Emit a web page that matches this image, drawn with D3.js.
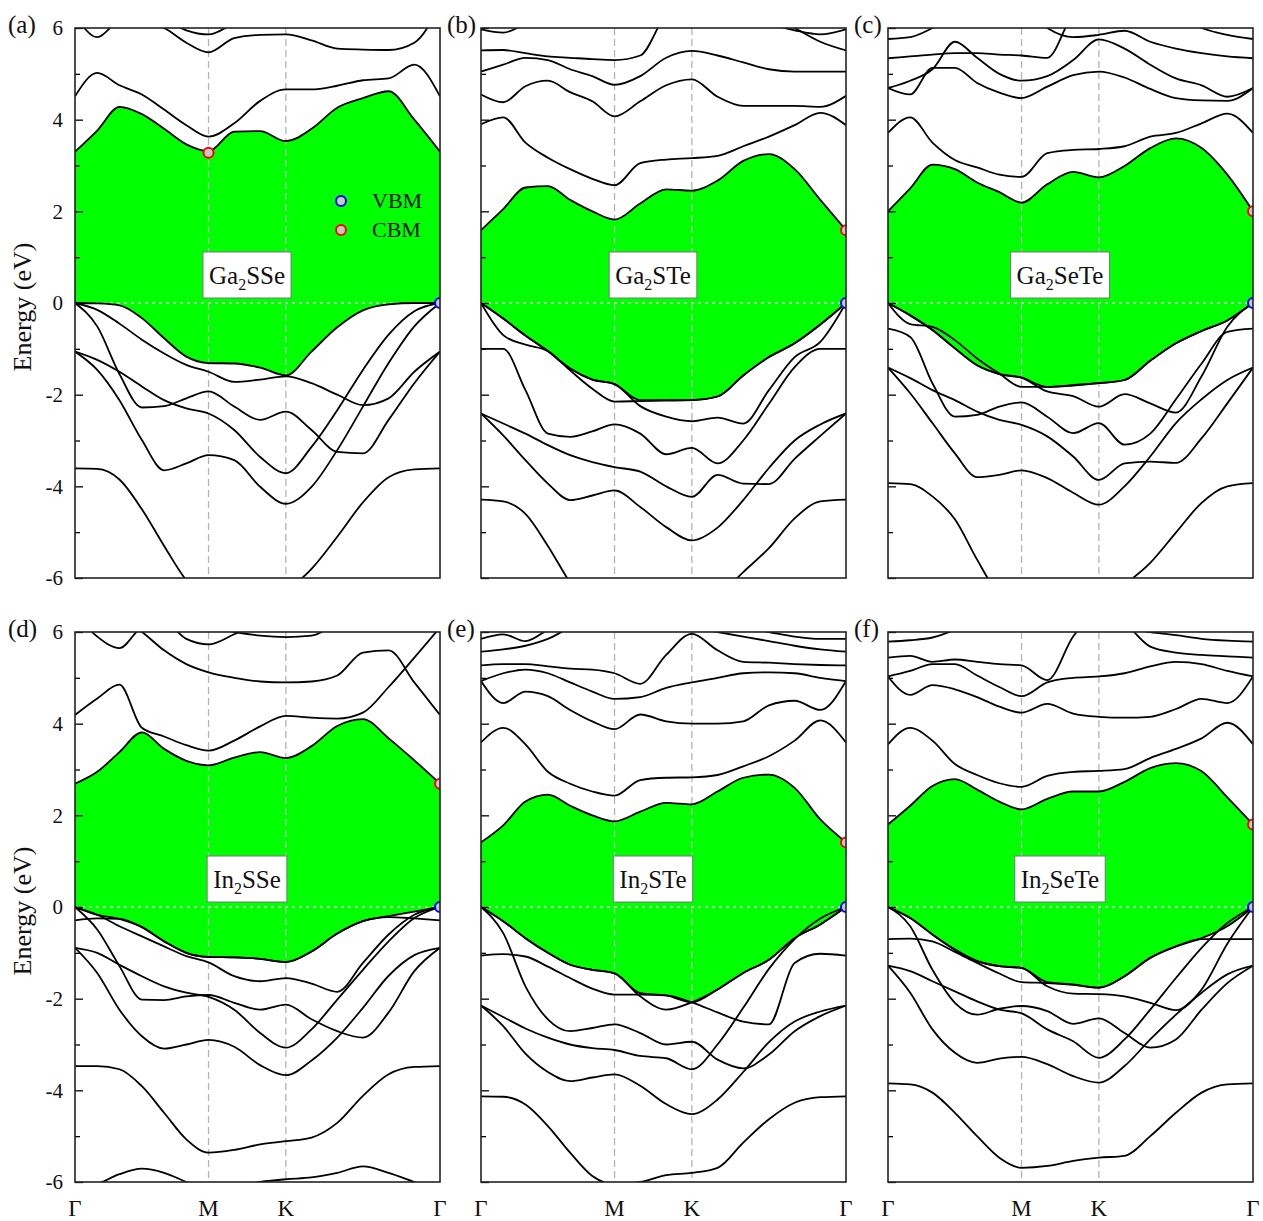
<!DOCTYPE html>
<html>
<head>
<meta charset="utf-8">
<script src="https://cdn.jsdelivr.net/npm/d3@7/dist/d3.min.js"></script>
<style>
body{margin:0;background:#fff}
text{font-family:"Liberation Serif","Times New Roman",serif}
</style>
</head>
<body>
<svg id="board" width="1263" height="1221"></svg>
<script>
board = d3.select('#board')

// k path Γ-M-K-Γ (hexagonal, 2π/a units), sampled points
kGrid = [0, 0.096, 0.192, 0.289, 0.385, 0.481, 0.577, 0.688, 0.800, 0.911, 1.022, 1.133, 1.244, 1.355, 1.466, 1.577];
kSym = [0, 0.577, 0.911, 1.577];
kNames = ['Γ', 'M', 'K', 'Γ'];
yMajor = [-6, -4, -2, 0, 2, 4, 6];
yMinor = [-5, -3, -1, 1, 3, 5];

letters = ['(a)', '(b)', '(c)', '(d)', '(e)', '(f)'];
names = [['Ga','2','SSe'], ['Ga','2','STe'], ['Ga','2','SeTe'],
         ['In','2','SSe'], ['In','2','STe'], ['In','2','SeTe']];

// CBM position for each panel (k, E); VBM is at Γ, 0 eV
cbmK = [0.577, 1.577, 1.577, 1.577, 1.577, 1.577];
cbmE = [3.28, 1.59, 2.0, 2.69, 1.41, 1.80];

// ---- (a) Ga2SSe ----
bandsA = [
 [3.30, 3.76, 4.28, 4.12, 3.80, 3.46, 3.31, 3.74, 3.75, 3.53, 3.80, 4.26, 4.47, 4.62, 4.0, 3.30],
 [4.51, 5.02, 4.75, 4.55, 4.22, 3.88, 3.63, 3.92, 4.41, 4.66, 4.66, 4.74, 4.86, 4.9, 5.2, 4.51],
 [6.6, 6.5, 6.3, 6.15, 6.0, 5.68, 5.47, 5.78, 5.85, 5.86, 5.73, 5.55, 5.53, 5.52, 5.68, 6.5],
 [6.3, 5.8, 6.2, 6.4, 6.2, 5.95, 5.86, 6.1, 6.3, 6.4, 6.5, 6.5, 6.5, 6.5, 6.5, 6.5],
 [0, -0.15, -0.45, -0.8, -1.1, -1.35, -1.5, -1.72, -1.67, -1.6, -1.75, -2.0, -2.23, -2.08, -1.5, -1.06],
 [0, -0.51, -1.55, -2.28, -2.25, -2.08, -1.93, -2.26, -2.55, -2.37, -2.77, -3.25, -3.28, -2.55, -1.75, -1.06],
 [-1.06, -1.24, -1.5, -1.82, -2.12, -2.30, -2.41, -2.77, -3.36, -3.71, -3.14, -2.34, -1.46, -0.69, -0.18, 0],
 [-1.06, -1.46, -2.12, -2.99, -3.65, -3.50, -3.32, -3.43, -4.01, -4.38, -4.01, -3.21, -2.26, -1.31, -0.51, 0],
 [-3.61, -3.62, -3.85, -4.5, -5.3, -6.05, -6.5, -6.7, -6.7, -6.3, -5.8, -5.1, -4.35, -3.8, -3.63, -3.61]
];
vbTopA = [0, -0.01, -0.05, -0.33, -0.77, -1.17, -1.31, -1.32, -1.41, -1.58, -1.06, -0.53, -0.16, -0.03, 0, 0];

// ---- (b) Ga2STe ----
bandsB = [
 [1.59, 2.05, 2.52, 2.55, 2.25, 2.0, 1.82, 2.17, 2.48, 2.45, 2.67, 3.1, 3.25, 2.92, 2.25, 1.59],
 [3.9, 4.05, 3.5, 3.17, 2.92, 2.71, 2.57, 3.05, 3.13, 3.16, 3.21, 3.42, 3.63, 3.88, 4.15, 3.88],
 [4.55, 4.38, 4.73, 4.85, 4.6, 4.4, 4.07, 4.4, 4.75, 4.88, 4.5, 4.3, 4.3, 4.3, 4.28, 4.52],
 [5.05, 5.2, 5.35, 5.3, 5.1, 4.95, 4.76, 4.95, 5.35, 5.5, 5.4, 5.25, 5.1, 5.05, 5.05, 5.05],
 [5.51, 5.52, 5.45, 5.38, 5.35, 5.32, 5.3, 5.4, 6.3, 6.6, 6.6, 6.5, 6.3, 6.0, 5.7, 5.51],
 [5.97, 5.9, 6.1, 6.4, 6.6, 6.6, 6.6, 6.6, 6.6, 6.6, 6.5, 6.3, 6.1, 5.95, 5.86, 5.97],
 [0, -0.34, -0.71, -1.05, -1.43, -1.67, -1.77, -2.25, -2.48, -2.58, -2.5, -2.63, -1.9, -1.18, -0.85, 0],
 [0, -0.7, -0.91, -1.05, -1.47, -1.87, -2.15, -2.14, -2.13, -2.12, -2.04, -1.58, -1.18, -0.88, -0.47, 0],
 [-1.0, -1.0, -1.9, -2.85, -2.92, -2.8, -2.65, -2.85, -3.3, -3.16, -3.5, -3.0, -2.2, -1.4, -1.0, -1.0],
 [-2.41, -2.63, -2.85, -3.1, -3.32, -3.47, -3.58, -3.68, -4.0, -4.23, -3.75, -3.94, -3.95, -3.4, -2.9, -2.41],
 [-2.41, -2.89, -3.43, -3.94, -4.3, -4.2, -4.09, -4.45, -4.89, -5.18, -4.9, -4.3, -3.6, -3.0, -2.65, -2.41],
 [-4.29, -4.33, -4.6, -5.3, -6.1, -6.7, -7.0, -7.1, -7.0, -6.6, -6.4, -5.87, -5.35, -4.7, -4.33, -4.29]
];
vbTopB = [0, -0.34, -0.71, -1.05, -1.43, -1.67, -1.77, -2.12, -2.12, -2.12, -2.04, -1.58, -1.18, -0.88, -0.47, 0];

// ---- (c) Ga2SeTe ----
bandsC = [
 [2.0, 2.5, 3.02, 2.92, 2.63, 2.42, 2.19, 2.59, 2.86, 2.74, 2.99, 3.38, 3.59, 3.38, 2.80, 2.0],
 [3.71, 4.05, 3.5, 3.12, 2.96, 2.80, 2.75, 3.27, 3.34, 3.36, 3.42, 3.63, 3.71, 3.92, 4.13, 3.71],
 [4.69, 4.55, 5.13, 5.13, 4.80, 4.59, 4.47, 4.72, 4.97, 5.05, 4.92, 4.67, 4.47, 4.42, 4.41, 4.69],
 [4.69, 4.85, 5.1, 5.7, 5.35, 5.0, 4.85, 4.95, 5.3, 5.75, 5.55, 5.2, 4.9, 4.75, 4.5, 4.69],
 [5.34, 5.38, 5.42, 5.45, 5.45, 5.42, 5.4, 5.35, 6.3, 6.6, 6.6, 6.5, 6.3, 6.0, 5.85, 5.76],
 [5.76, 5.8, 6.0, 6.3, 6.5, 6.6, 6.5, 6.0, 5.8, 5.85, 5.94, 5.7, 5.55, 5.45, 5.38, 5.34],
 [0, -0.27, -0.59, -0.99, -1.36, -1.55, -1.63, -1.93, -2.03, -2.26, -1.99, -2.19, -2.39, -1.6, -0.52, 0],
 [0, -0.46, -0.52, -0.81, -1.21, -1.54, -1.83, -1.83, -1.8, -1.75, -1.68, -1.26, -0.88, -0.61, -0.38, 0],
 [-0.56, -0.74, -1.75, -2.48, -2.44, -2.26, -2.17, -2.48, -2.84, -2.62, -3.09, -2.85, -2.1, -1.32, -0.63, -0.56],
 [-1.41, -1.64, -1.9, -2.12, -2.37, -2.55, -2.66, -2.91, -3.35, -3.86, -3.5, -3.46, -3.49, -2.95, -2.19, -1.41],
 [-1.41, -1.97, -2.62, -3.28, -3.8, -3.75, -3.65, -3.82, -4.14, -4.40, -4.0, -3.35, -2.62, -2.1, -1.68, -1.41],
 [-3.93, -3.95, -4.22, -4.72, -5.6, -6.4, -6.9, -7.0, -6.9, -6.6, -6.15, -5.67, -5.01, -4.36, -4.0, -3.93]
];
vbTopC = [0, -0.27, -0.59, -0.99, -1.36, -1.55, -1.63, -1.83, -1.79, -1.75, -1.68, -1.26, -0.88, -0.61, -0.38, 0];

// ---- (d) In2SSe ----
bandsD = [
 [2.69, 2.95, 3.38, 3.81, 3.45, 3.19, 3.09, 3.26, 3.38, 3.25, 3.51, 3.95, 4.1, 3.68, 3.20, 2.69],
 [4.19, 4.55, 4.85, 3.91, 3.72, 3.53, 3.41, 3.63, 3.94, 4.17, 4.13, 4.11, 4.24, 4.80, 5.44, 6.1],
 [6.6, 6.5, 6.3, 6.0, 5.6, 5.3, 5.12, 5.0, 4.92, 4.9, 4.92, 5.05, 5.55, 5.6, 4.9, 4.19],
 [6.4, 5.9, 5.65, 6.1, 6.2, 5.85, 5.73, 5.95, 6.2, 6.3, 6.3, 6.2, 6.1, 6.2, 6.4, 6.6],
 [6.8, 6.6, 6.4, 6.2, 6.1, 6.05, 6.1, 6.0, 5.92, 5.89, 5.92, 6.2, 6.5, 6.6, 6.6, 6.6],
 [-0.29, -0.25, -0.26, -0.44, -0.75, -1.0, -1.09, -1.10, -1.13, -1.20, -0.97, -0.58, -0.31, -0.22, -0.25, -0.29],
 [0, -0.17, -0.42, -0.64, -0.86, -1.07, -1.21, -1.51, -1.62, -1.55, -1.67, -1.85, -1.22, -0.60, -0.17, 0],
 [0, -0.49, -1.29, -2.02, -2.03, -1.95, -1.92, -2.09, -2.24, -2.13, -2.45, -2.71, -2.85, -2.3, -1.4, -0.89],
 [-0.89, -1.0, -1.26, -1.51, -1.73, -1.87, -1.96, -2.24, -2.75, -3.07, -2.67, -2.02, -1.37, -0.75, -0.24, 0],
 [-0.89, -1.44, -2.24, -2.82, -3.09, -3.0, -2.9, -3.05, -3.45, -3.67, -3.35, -2.85, -2.2, -1.5, -1.05, -0.89],
 [-3.47, -3.47, -3.54, -3.91, -4.49, -5.07, -5.36, -5.30, -5.18, -5.11, -5.03, -4.71, -4.12, -3.65, -3.49, -3.47],
 [-6.2, -6.05, -5.83, -5.71, -5.8, -6.0, -6.2, -6.1, -6.0, -5.94, -5.9, -5.8, -5.66, -5.8, -6.0, -6.2]
];
vbTopD = [0, -0.17, -0.26, -0.44, -0.75, -1.0, -1.09, -1.10, -1.13, -1.20, -0.97, -0.58, -0.31, -0.2, -0.1, 0];

// ---- (e) In2STe ----
bandsE = [
 [1.41, 1.78, 2.3, 2.45, 2.21, 2.0, 1.87, 2.08, 2.27, 2.24, 2.52, 2.82, 2.89, 2.60, 1.91, 1.41],
 [3.59, 3.91, 3.55, 2.95, 2.69, 2.52, 2.43, 2.77, 2.82, 2.83, 2.88, 3.07, 3.29, 3.63, 4.07, 3.59],
 [4.93, 4.45, 4.7, 4.6, 4.3, 4.05, 3.88, 4.2, 4.05, 4.0, 4.0, 4.05, 4.4, 4.5, 4.3, 4.93],
 [4.93, 5.1, 5.18, 5.1, 4.9, 4.7, 4.54, 4.58, 4.78, 4.9, 5.0, 5.1, 5.12, 5.1, 5.0, 4.93],
 [5.27, 5.3, 5.3, 5.25, 5.2, 5.18, 5.1, 4.87, 5.5, 5.96, 5.6, 5.35, 5.33, 5.3, 5.28, 5.27],
 [5.57, 5.62, 5.7, 5.85, 6.1, 6.3, 6.5, 6.5, 6.3, 6.1, 6.0, 5.9, 5.8, 5.7, 5.62, 5.57],
 [5.85, 5.95, 5.8, 6.05, 6.3, 6.5, 6.6, 6.6, 6.5, 6.3, 6.2, 6.1, 6.0, 5.9, 5.85, 5.85],
 [0, -0.31, -0.68, -1.0, -1.26, -1.37, -1.45, -1.95, -2.24, -2.08, -1.8, -1.44, -1.15, -0.68, -0.38, 0],
 [-1.06, -1.03, -1.08, -1.3, -1.55, -1.78, -1.91, -1.91, -1.93, -2.08, -2.3, -2.5, -2.56, -1.22, -1.02, -1.06],
 [0, -0.57, -1.73, -2.45, -2.71, -2.64, -2.56, -2.75, -3.0, -2.94, -3.33, -3.52, -3.22, -2.71, -2.38, -2.15],
 [-2.15, -2.4, -2.65, -2.85, -3.0, -3.08, -3.12, -3.25, -3.3, -3.54, -3.0, -2.2, -1.35, -0.7, -0.25, 0],
 [-2.15, -2.6, -3.2, -3.6, -3.8, -3.72, -3.65, -3.9, -4.3, -4.52, -4.2, -3.6, -2.95, -2.5, -2.28, -2.15],
 [-4.13, -4.14, -4.31, -4.78, -5.36, -5.87, -6.05, -6.0, -5.85, -5.8, -5.69, -5.14, -4.63, -4.27, -4.15, -4.13]
];
vbTopE = [0, -0.31, -0.68, -1.0, -1.26, -1.37, -1.45, -1.88, -1.93, -2.08, -1.8, -1.44, -1.15, -0.68, -0.38, 0];

// ---- (f) In2SeTe ----
bandsF = [
 [1.80, 2.21, 2.64, 2.79, 2.56, 2.30, 2.13, 2.36, 2.52, 2.52, 2.73, 3.03, 3.14, 2.96, 2.39, 1.80],
 [3.55, 3.91, 3.63, 3.12, 2.88, 2.70, 2.62, 2.86, 2.95, 2.97, 3.01, 3.25, 3.45, 3.68, 4.02, 3.55],
 [5.03, 4.63, 4.84, 4.75, 4.58, 4.37, 4.24, 4.43, 4.22, 4.15, 4.13, 4.15, 4.32, 4.54, 4.45, 5.03],
 [5.03, 5.15, 5.3, 5.3, 5.05, 4.8, 4.6, 4.9, 5.0, 5.03, 5.1, 5.25, 5.35, 5.3, 5.15, 5.03],
 [5.44, 5.48, 5.35, 5.4, 5.35, 5.3, 5.27, 4.95, 5.9, 6.5, 6.2, 5.68, 5.55, 5.5, 5.47, 5.44],
 [5.79, 5.82, 5.88, 6.05, 6.3, 6.5, 6.6, 6.6, 6.5, 6.3, 6.1, 6.0, 5.93, 5.85, 5.81, 5.79],
 [0, -0.24, -0.6, -0.93, -1.18, -1.29, -1.33, -1.73, -1.89, -1.9, -1.95, -2.09, -2.25, -1.8, -0.8, 0],
 [-0.7, -0.69, -0.75, -0.98, -1.22, -1.45, -1.64, -1.66, -1.7, -1.76, -1.51, -1.11, -0.86, -0.7, -0.7, -0.7],
 [0, -0.42, -1.37, -2.09, -2.35, -2.22, -2.16, -2.27, -2.55, -2.43, -2.75, -3.07, -2.89, -2.24, -1.66, -1.28],
 [-1.28, -1.40, -1.62, -1.84, -2.06, -2.24, -2.32, -2.67, -2.93, -3.29, -2.89, -2.24, -1.55, -0.89, -0.35, 0],
 [-1.28, -1.87, -2.67, -3.18, -3.40, -3.31, -3.27, -3.43, -3.69, -3.83, -3.47, -2.89, -2.35, -1.87, -1.47, -1.28],
 [-3.85, -3.87, -4.05, -4.49, -5.0, -5.47, -5.69, -5.65, -5.54, -5.47, -5.43, -5.0, -4.49, -4.05, -3.87, -3.85]
];
vbTopF = [0, -0.24, -0.60, -0.93, -1.18, -1.29, -1.33, -1.64, -1.69, -1.76, -1.51, -1.11, -0.86, -0.68, -0.42, 0];

allBands = [bandsA, bandsB, bandsC, bandsD, bandsE, bandsF];
allTops = [vbTopA, vbTopB, vbTopC, vbTopD, vbTopE, vbTopF];

colX = [75, 481, 888];
rowY = [28, 632];
W = 365;
H = 550;

for (p = 0; p < 6; p++) {
    draw_panel(p);
}

function draw_panel(p) {
    col = p % 3;
    row = Math.floor(p / 3);
    bands = allBands[p];
    vbTop = allTops[p];

    g = board.append('g')
        .attr('transform', `translate(${colX[col]},${rowY[row]})`);

    x = d3.scaleLinear().domain([0, 1.577]).range([0, W]);
    y = d3.scaleLinear().domain([-6, 6]).range([H, 0]);

    g.append('clipPath').attr('id', 'clip' + p)
        .append('rect').attr('width', W).attr('height', H);

    inner = g.append('g').attr('clip-path', `url(#clip${p})`);

    // gap (between VB top and lowest CB)
    gap = kGrid.map((k, i) => ({k: k, lo: vbTop[i], hi: bands[0][i]}));
    inner.append('path')
        .datum(gap)
        .attr('fill', '#00ff00')
        .attr('d', d3.area()
            .x(d => x(d.k))
            .y0(d => y(d.lo))
            .y1(d => y(d.hi))
            .curve(d3.curveMonotoneX));

    // Fermi level
    inner.append('line')
        .attr('x1', 0).attr('x2', W)
        .attr('y1', y(0)).attr('y2', y(0))
        .attr('stroke', '#d4d4d4')
        .attr('stroke-width', 1.3)
        .attr('stroke-dasharray', '3,4');

    // high symmetry points
    [kSym[1], kSym[2]].forEach(function(k) {
        inner.append('line')
            .attr('x1', x(k)).attr('x2', x(k))
            .attr('y1', 0).attr('y2', H)
            .attr('stroke', '#b4b4b4')
            .attr('stroke-width', 1.3)
            .attr('stroke-dasharray', '7,4');
    });

    line = d3.line()
        .x((d, i) => x(kGrid[i]))
        .y(d => y(d))
        .curve(d3.curveMonotoneX);

    inner.append('path')
        .datum(vbTop)
        .attr('fill', 'none')
        .attr('stroke', '#000')
        .attr('stroke-width', 1.8)
        .attr('d', line);

    bands.forEach(function(b) {
        inner.append('path')
            .datum(b)
            .attr('fill', 'none')
            .attr('stroke', '#000')
            .attr('stroke-width', 1.8)
            .attr('d', line);
    });

    // VBM / CBM markers
    inner.append('circle')
        .attr('cx', x(1.577)).attr('cy', y(0)).attr('r', 5)
        .attr('fill', '#c8c8c8').attr('stroke', '#0000ff').attr('stroke-width', 2);
    inner.append('circle')
        .attr('cx', x(cbmK[p])).attr('cy', y(cbmE[p])).attr('r', 5)
        .attr('fill', '#c8c8c8').attr('stroke', '#ff0000').attr('stroke-width', 2);

    // material label
    lab = g.append('g');
    txt = lab.append('text')
        .attr('x', 172).attr('y', 256)
        .attr('text-anchor', 'middle')
        .attr('font-size', 25)
        .attr('fill', '#111');
    nm = names[p];
    txt.append('tspan').text(nm[0]);
    txt.append('tspan').text(nm[1]).attr('font-size', 16).attr('dy', 6);
    txt.append('tspan').text(nm[2]).attr('dy', -6);
    bb = txt.node().getBBox();
    lab.insert('rect', 'text')
        .attr('x', bb.x - 6).attr('y', 224)
        .attr('width', bb.width + 12).attr('height', 46)
        .attr('fill', '#fff')
        .attr('stroke', '#777')
        .attr('stroke-width', 1);

    // legend only in (a)
    if (p === 0) {
        leg = [['VBM', '#0000ff', 173], ['CBM', '#ff0000', 202]];
        leg.forEach(function(l) {
            g.append('circle')
                .attr('cx', 266).attr('cy', l[2]).attr('r', 5)
                .attr('fill', '#c8c8c8').attr('stroke', l[1]).attr('stroke-width', 2);
            g.append('text')
                .attr('x', 297).attr('y', l[2] + 7)
                .attr('font-size', 22).attr('fill', '#111')
                .text(l[0]);
        });
    }

    // ticks (inside)
    ax = g.append('g')
        .call(d3.axisLeft(y).tickValues(yMajor).tickSize(-8).tickPadding(12)
            .tickFormat(col === 0 ? (d => String(d)) : ''));
    ax.select('.domain').remove();
    ax.selectAll('line').attr('stroke', '#000').attr('stroke-width', 1.3);
    ax.selectAll('text')
        .attr('font-family', '"Liberation Serif", serif')
        .attr('font-size', 21)
        .attr('fill', '#111');

    axm = g.append('g')
        .call(d3.axisLeft(y).tickValues(yMinor).tickSize(-5).tickFormat(''));
    axm.select('.domain').remove();
    axm.selectAll('line').attr('stroke', '#000').attr('stroke-width', 1.3);

    // frame
    g.append('rect')
        .attr('width', W).attr('height', H)
        .attr('fill', 'none')
        .attr('stroke', '#222')
        .attr('stroke-width', 1.6);

    // panel letter
    letterX = [8, 447, 854];
    board.append('text')
        .attr('x', letterX[col]).attr('y', rowY[row] + 5)
        .attr('font-size', 25).attr('fill', '#111')
        .text(letters[p]);

    if (col === 0) {
        board.append('text')
            .attr('transform', `translate(31,${rowY[row] + H / 2 + 4}) rotate(-90)`)
            .attr('text-anchor', 'middle')
            .attr('font-size', 26).attr('fill', '#111')
            .text('Energy (eV)');
    }

    if (row === 1) {
        kSym.forEach(function(k, i) {
            g.append('text')
                .attr('x', x(k)).attr('y', H + 34)
                .attr('text-anchor', 'middle')
                .attr('font-size', 23).attr('fill', '#111')
                .text(kNames[i]);
        });
    }
}
</script>
</body>
</html>
